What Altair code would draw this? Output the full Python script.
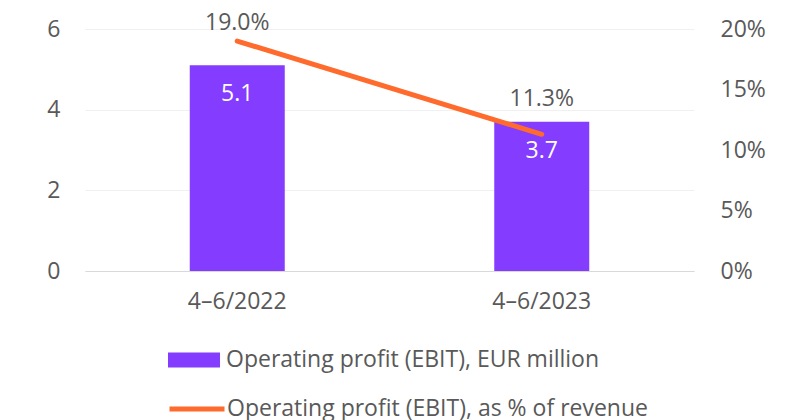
import altair as alt
import pandas as pd

periods = ["4–6/2022", "4–6/2023"]
ebit = [5.1, 3.7]
margin = [19.0, 11.3]
ebit_labels = ["5.1", "3.7"]
margin_labels = ["19.0%", "11.3%"]
bar_series = "Operating profit (EBIT), EUR million"
line_series = "Operating profit (EBIT), as % of revenue"

left_ticks = [0, 2, 4, 6]
right_ticks = [0, 5, 10, 15, 20]

df = pd.DataFrame({
    "period": periods,
    "ebit": ebit,
    "margin": margin,
    "ebit_label": ebit_labels,
    "margin_label": margin_labels,
    "bar_series": [bar_series] * 2,
    "line_series": [line_series] * 2,
})

FONT = "Open Sans"
GRAY = "#595959"
PURPLE = "#843CFF"
ORANGE = "#FF6B2C"
FS = 23

x = alt.X("period:N", sort=periods, title=None,
          scale=alt.Scale(paddingInner=0, paddingOuter=0),
          axis=alt.Axis(labelAngle=0, ticks=False, domain=True, domainColor="#d9d9d9",
                        grid=False, labelPadding=19, labelFontSize=FS, labelColor=GRAY,
                        labelFont=FONT))
x_plain = alt.X("period:N", sort=periods)

base = alt.Chart(df)

bars = base.mark_bar(size=95).encode(
    x=x,
    y=alt.Y("ebit:Q", title=None, scale=alt.Scale(domain=[0, 6], nice=False),
            axis=alt.Axis(values=left_ticks, ticks=False, domain=False, grid=True,
                          gridColor="#f0f0f0", labelPadding=25, labelFontSize=FS,
                          labelColor=GRAY, labelFont=FONT)),
    color=alt.Color("bar_series:N", title=None,
                    scale=alt.Scale(domain=[bar_series], range=[PURPLE]),
                    legend=alt.Legend(orient="none", legendX=83, legendY=305, padding=0,
                                      symbolType="M-1,-0.29L1,-0.29L1,0.29L-1,0.29Z",
                                      symbolSize=2704, symbolStrokeWidth=0,
                                      labelFontSize=FS, labelColor=GRAY, labelFont=FONT,
                                      labelLimit=600, labelOffset=6)),
)

bar_text = base.mark_text(color="white", dy=29, fontSize=FS, font=FONT, baseline="middle").encode(
    x=x_plain,
    y=alt.Y("ebit:Q"),
    text="ebit_label:N",
)

left = alt.layer(bars, bar_text)

line = base.mark_line(strokeWidth=5, strokeCap="round").encode(
    x=x_plain,
    y=alt.Y("margin:Q", title=None, scale=alt.Scale(domain=[0, 20], nice=False),
            axis=alt.Axis(values=right_ticks, orient="right", ticks=False, domain=False,
                          grid=False, labelPadding=26, labelFontSize=FS, labelColor=GRAY,
                          labelFont=FONT, labelExpr="datum.value + '%'")),
    stroke=alt.Stroke("line_series:N", title=None,
                      scale=alt.Scale(domain=[line_series], range=[ORANGE]),
                      legend=alt.Legend(orient="none", legendX=82, legendY=350, padding=0,
                                        symbolType="stroke", symbolSize=3025,
                                        symbolStrokeWidth=5,
                                        labelFontSize=FS, labelColor=GRAY, labelFont=FONT,
                                        labelLimit=600, labelOffset=0)),
)

t1 = base.mark_text(color=GRAY, dy=-18, fontSize=FS, font=FONT, baseline="middle").encode(
    x=x_plain, y=alt.Y("margin:Q"), text="margin_label:N"
).transform_filter(alt.datum.period == periods[0])

t2 = base.mark_text(color=GRAY, dy=-35, fontSize=FS, font=FONT, baseline="middle").encode(
    x=x_plain, y=alt.Y("margin:Q"), text="margin_label:N"
).transform_filter(alt.datum.period == periods[1])

right = alt.layer(line, t1, t2)

chart = alt.layer(left, right).resolve_scale(y="independent").properties(
    width=609, height=242,
    autosize=alt.AutoSizeParams(type="none"),
    padding={"left": 77, "top": 21, "right": 93, "bottom": 149},
).configure(font=FONT).configure_view(stroke=None, strokeWidth=0)

chart.save("out.html", embed_options={"renderer": "svg", "actions": False})
